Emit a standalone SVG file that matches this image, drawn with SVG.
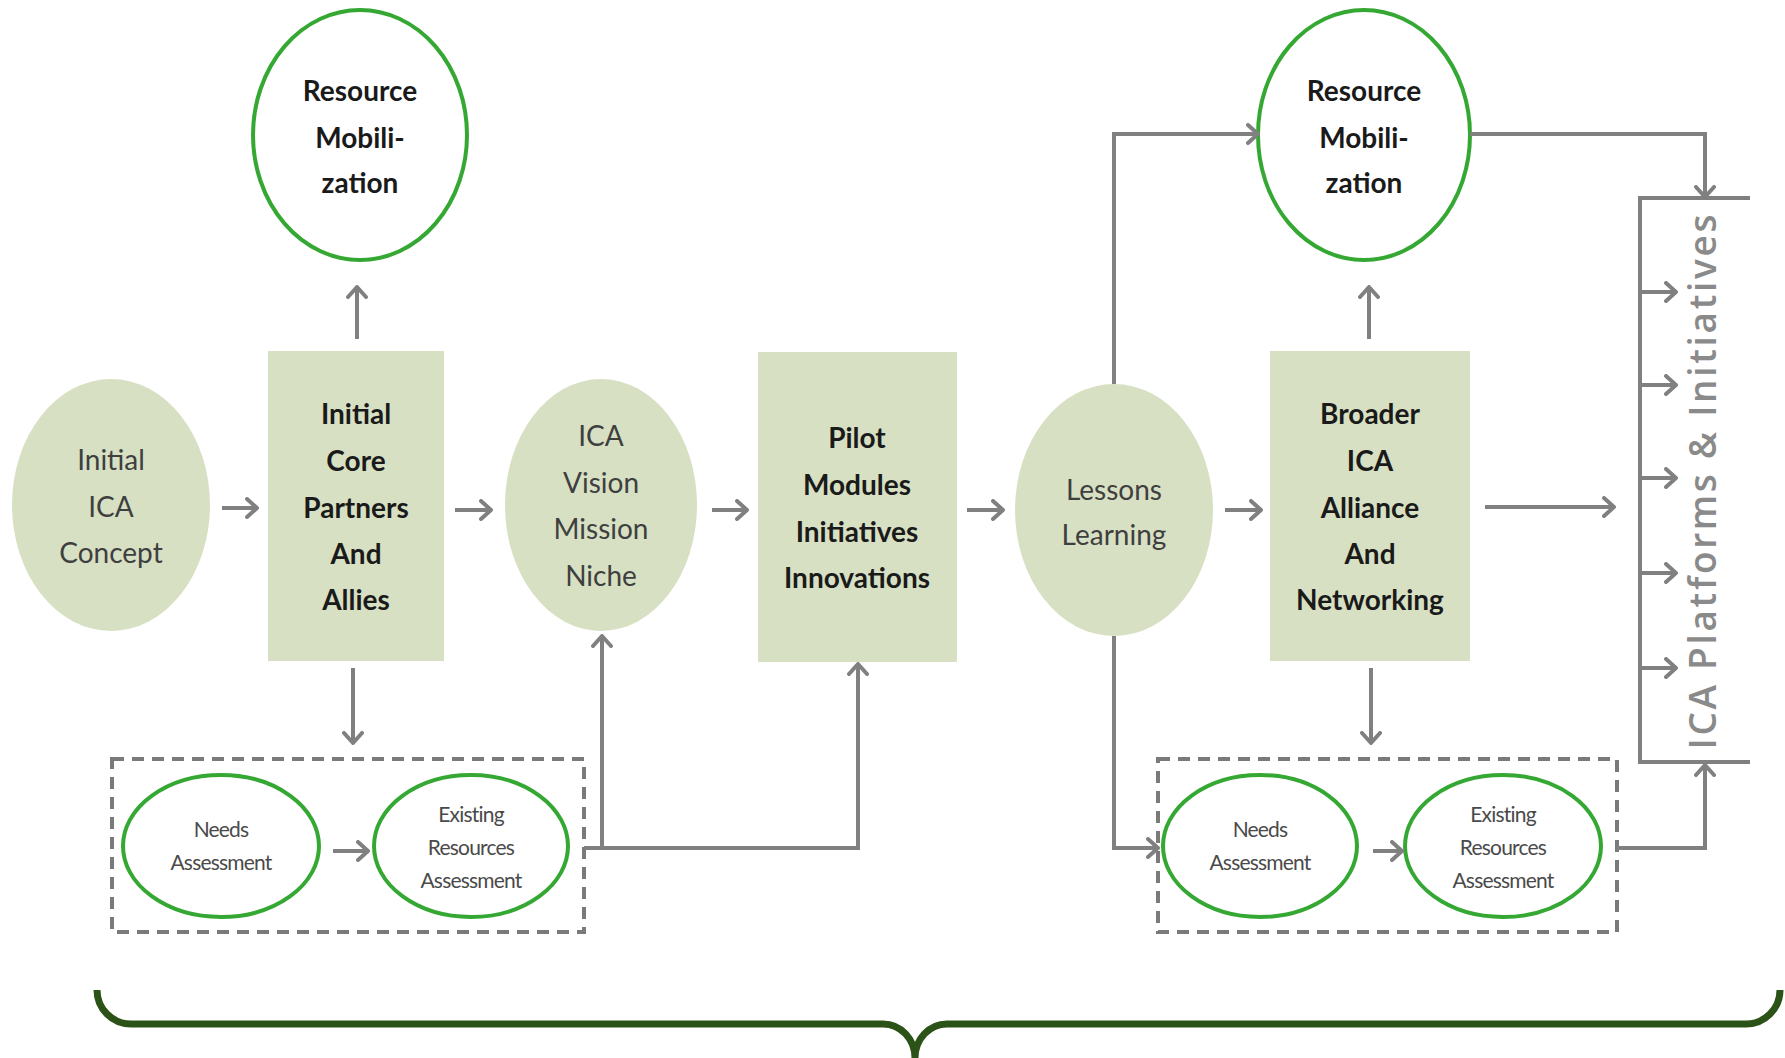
<svg xmlns="http://www.w3.org/2000/svg" width="1785" height="1058" viewBox="0 0 1785 1058">
<style>
.bg{fill:#ffffff}
.olive{fill:#d7e0c3;stroke:none}
.green{fill:#ffffff;stroke:#35a833;stroke-width:4}
.t{font-family:Lato,"Liberation Sans",sans-serif;font-size:28px;text-anchor:middle}
.reg{fill:#3f3f3f}
.bold{fill:#1a1a1a;font-weight:bold}
.small{font-family:Lato,"Liberation Sans",sans-serif;font-size:21px;letter-spacing:-0.8px;text-anchor:middle;fill:#4a4a4a}
.conn{fill:none;stroke:#808080;stroke-width:4}
.dash{fill:none;stroke:#7a7a7a;stroke-width:4;stroke-dasharray:12 8}
.plat{fill:none;stroke:#808080;stroke-width:4}
.ptext{font-family:"Open Sans","DejaVu Sans",sans-serif;font-size:37px;font-weight:600;fill:#8a8a8a;text-anchor:middle}
.brace{fill:none;stroke:#2b5217;stroke-width:7}
</style>
<defs>
<marker id="arr" viewBox="0 0 14 22" refX="12" refY="11" markerWidth="14" markerHeight="22" orient="auto" markerUnits="userSpaceOnUse">
<path d="M2,2 L12,11 L2,20" fill="none" stroke="#808080" stroke-width="4" stroke-linecap="round" stroke-linejoin="round"/>
</marker>
</defs>
<rect class="bg" x="0" y="0" width="1785" height="1058"/>

<g id="concept">
<ellipse class="olive" cx="111" cy="505" rx="99" ry="126"/>
<text class="t reg" x="111" y="470">Initial</text>
<text class="t reg" x="111" y="517">ICA</text>
<text class="t reg" x="111" y="563">Concept</text>
</g>

<g id="core">
<rect class="olive" x="268" y="351" width="176" height="310"/>
<text class="t bold" x="356" y="424">Initial</text>
<text class="t bold" x="356" y="471">Core</text>
<text class="t bold" x="356" y="518">Partners</text>
<text class="t bold" x="356" y="564">And</text>
<text class="t bold" x="356" y="610">Allies</text>
</g>

<g id="rm1">
<ellipse class="green" cx="360" cy="135" rx="107" ry="125"/>
<text class="t bold" x="360" y="101">Resource</text>
<text class="t bold" x="360" y="148">Mobili-</text>
<text class="t bold" x="360" y="193">zation</text>
</g>

<g id="vision">
<ellipse class="olive" cx="601" cy="505" rx="96" ry="126"/>
<text class="t reg" x="601" y="446">ICA</text>
<text class="t reg" x="601" y="493">Vision</text>
<text class="t reg" x="601" y="539">Mission</text>
<text class="t reg" x="601" y="586">Niche</text>
</g>

<g id="pilot">
<rect class="olive" x="758" y="352" width="199" height="310"/>
<text class="t bold" x="857" y="448">Pilot</text>
<text class="t bold" x="857" y="495">Modules</text>
<text class="t bold" x="857" y="542">Initiatives</text>
<text class="t bold" x="857" y="588">Innovations</text>
</g>

<g id="lessons">
<ellipse class="olive" cx="1114" cy="510" rx="99" ry="126"/>
<text class="t reg" x="1114" y="500">Lessons</text>
<text class="t reg" x="1114" y="545">Learning</text>
</g>

<g id="broader">
<rect class="olive" x="1270" y="351" width="200" height="310"/>
<text class="t bold" x="1370" y="424">Broader</text>
<text class="t bold" x="1370" y="471">ICA</text>
<text class="t bold" x="1370" y="518">Alliance</text>
<text class="t bold" x="1370" y="564">And</text>
<text class="t bold" x="1370" y="610">Networking</text>
</g>

<g id="rm2">
<ellipse class="green" cx="1364" cy="135" rx="106" ry="125"/>
<text class="t bold" x="1364" y="101">Resource</text>
<text class="t bold" x="1364" y="148">Mobili-</text>
<text class="t bold" x="1364" y="193">zation</text>
</g>

<g id="assess-left">
<rect class="dash" x="112" y="759" width="472" height="173"/>
<g id="needs1">
<ellipse class="green" cx="221" cy="846" rx="98" ry="71"/>
<text class="small" x="221" y="837">Needs</text>
<text class="small" x="221" y="870">Assessment</text>
</g>
<g id="existing1">
<ellipse class="green" cx="471" cy="846" rx="97" ry="71"/>
<text class="small" x="471" y="822">Existing</text>
<text class="small" x="471" y="855">Resources</text>
<text class="small" x="471" y="888">Assessment</text>
</g>
</g>

<g id="assess-right">
<rect class="dash" x="1158" y="759" width="459" height="173"/>
<g id="needs2">
<ellipse class="green" cx="1260" cy="846" rx="97" ry="71"/>
<text class="small" x="1260" y="837">Needs</text>
<text class="small" x="1260" y="870">Assessment</text>
</g>
<g id="existing2">
<ellipse class="green" cx="1503" cy="846" rx="98" ry="71"/>
<text class="small" x="1503" y="822">Existing</text>
<text class="small" x="1503" y="855">Resources</text>
<text class="small" x="1503" y="888">Assessment</text>
</g>
</g>

<g id="platforms">
<path class="plat" d="M1750,198 L1640,198 L1640,762 L1750,762"/>
<text class="ptext" transform="translate(1716,482) rotate(-90)" textLength="535" lengthAdjust="spacing">ICA Platforms &amp; Initiatives</text>
</g>

<g id="connectors">
<line class="conn" x1="222" y1="508" x2="257" y2="508" marker-end="url(#arr)"/>
<line class="conn" x1="455" y1="510" x2="491" y2="510" marker-end="url(#arr)"/>
<line class="conn" x1="712" y1="510" x2="747" y2="510" marker-end="url(#arr)"/>
<line class="conn" x1="967" y1="510" x2="1003" y2="510" marker-end="url(#arr)"/>
<line class="conn" x1="1225" y1="510" x2="1261" y2="510" marker-end="url(#arr)"/>
<line class="conn" x1="1485" y1="507" x2="1614" y2="507" marker-end="url(#arr)"/>
<line class="conn" x1="357" y1="339" x2="357" y2="287" marker-end="url(#arr)"/>
<line class="conn" x1="353" y1="668" x2="353" y2="743" marker-end="url(#arr)"/>
<line class="conn" x1="1369" y1="339" x2="1369" y2="287" marker-end="url(#arr)"/>
<line class="conn" x1="1371" y1="668" x2="1371" y2="743" marker-end="url(#arr)"/>
<line class="conn" x1="333" y1="851" x2="368" y2="851" marker-end="url(#arr)"/>
<line class="conn" x1="1373" y1="851" x2="1402" y2="851" marker-end="url(#arr)"/>
<path class="conn" d="M584,848 L858,848 L858,664" marker-end="url(#arr)"/>
<path class="conn" d="M602,848 L602,636" marker-end="url(#arr)"/>
<path class="conn" d="M1114,384 L1114,134 L1258,134" marker-end="url(#arr)"/>
<path class="conn" d="M1114,636 L1114,848 L1158,848" marker-end="url(#arr)"/>
<path class="conn" d="M1470,134 L1705,134 L1705,197" marker-end="url(#arr)"/>
<path class="conn" d="M1617,848 L1705,848 L1705,765" marker-end="url(#arr)"/>
<line class="conn" x1="1640" y1="292" x2="1676" y2="292" marker-end="url(#arr)"/>
<line class="conn" x1="1640" y1="385" x2="1676" y2="385" marker-end="url(#arr)"/>
<line class="conn" x1="1640" y1="478" x2="1676" y2="478" marker-end="url(#arr)"/>
<line class="conn" x1="1640" y1="573" x2="1676" y2="573" marker-end="url(#arr)"/>
<line class="conn" x1="1640" y1="668" x2="1676" y2="668" marker-end="url(#arr)"/>
</g>

<path class="brace" d="M97,990 A34,34 0 0 0 131,1024 L883,1024 A32,34 0 0 1 915,1058 A32,34 0 0 1 947,1024 L1746,1024 A34,34 0 0 0 1780,990"/>
</svg>
